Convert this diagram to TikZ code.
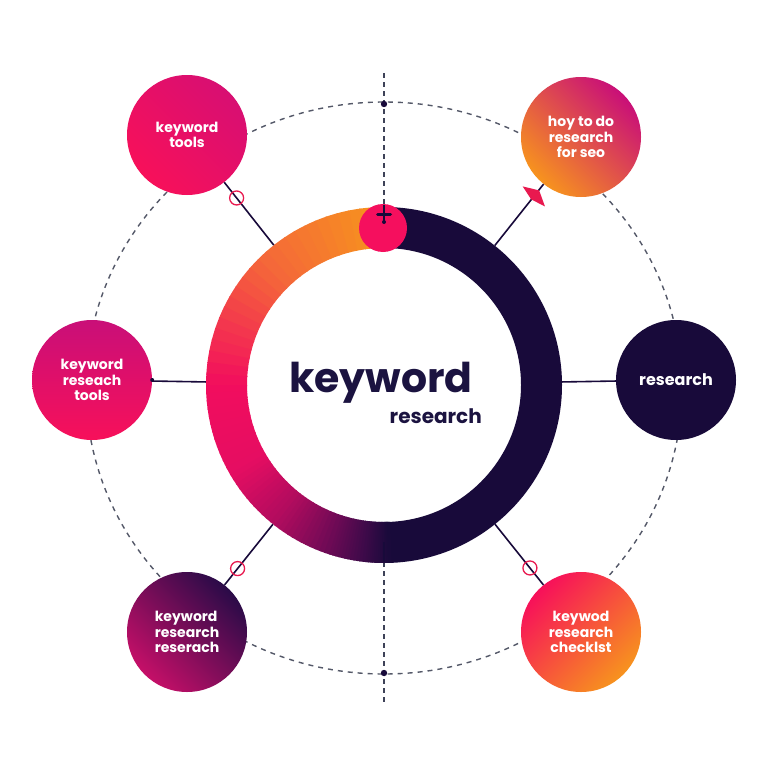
\documentclass[tikz,border=0pt]{standalone}
\usepackage{fontspec}
\setmainfont{Poppins}
\usetikzlibrary{calc}
\definecolor{navy}{HTML}{180A3A}
\definecolor{txtnavy}{HTML}{1B1340}
\definecolor{markred}{HTML}{E8194F}
\definecolor{dotpink}{HTML}{F50F5E}
\definecolor{dashgray}{HTML}{545868}
\definecolor{vgray}{HTML}{3E4258}
\definecolor{cA}{HTML}{F7941D}
\definecolor{cB}{HTML}{F4663A}
\definecolor{cC}{HTML}{F20D5E}
\definecolor{cD}{HTML}{E50D62}
\definecolor{cE}{HTML}{B00C5E}
\definecolor{cF}{HTML}{6A0A55}
\definecolor{cG}{HTML}{3A0A48}
\definecolor{pinkA}{HTML}{F7105A}
\definecolor{magA}{HTML}{C90F78}
\definecolor{magL}{HTML}{D80F72}
\definecolor{orangeA}{HTML}{F7931E}
\definecolor{darkP}{HTML}{2A0B48}
\definecolor{magB}{HTML}{C50F68}
\newcommand\ringwedge[3]{%
  \fill[#3] ($(384,-385)+(#1:178)$) arc[start angle=#1,end angle=#2,radius=178]
    -- ($(384,-385)+(#2:137)$) arc[start angle=#2,end angle=#1,radius=137] -- cycle;}
\tikzset{
  sat/.style={circle, inner sep=0pt, minimum size=120pt, text=white, align=center,
    font=\bfseries\fontsize{14}{15.5}\selectfont},
  conn/.style={draw=navy, line width=1.6pt},
  ringmark/.style={circle, draw=markred, line width=1.3pt, minimum size=14pt, inner sep=0pt},
  dashline/.style={draw=dashgray, line width=1.4pt, dash pattern=on 5pt off 5pt},
  vdash/.style={draw=vgray, line width=1.5pt, dash pattern=on 5pt off 4pt},
}
\begin{document}
\begin{tikzpicture}[x=1pt,y=1pt]
\useasboundingbox (0,0) rectangle (768,-768);
\fill[white] (0,0) rectangle (768,-768);
% dashed orbit
\draw[dashline] (384,-388) ellipse [x radius=298, y radius=286];
% vertical dashed axis
\draw[vdash] (384,-73) -- (384,-207);
\draw[vdash] (384,-562) -- (384,-703);
\fill[navy] (384,-104) circle (3.2);
\fill[navy] (384,-673) circle (3.2);
% ring: right half navy
\ringwedge{-90}{90}{navy}
% ring: left half gradient
\foreach \a/\b/\ca/\cb in {90/135/cA/cB, 135/180/cB/cC, 180/210/cC/cD, 210/232/cD/cE, 232/252/cE/cF, 252/264/cF/cG, 264/272/cG/navy}{
  \foreach \i in {0,...,11}{
    \pgfmathsetmacro\s{\a+(\b-\a)*\i/12}
    \pgfmathsetmacro\e{\a+(\b-\a)*(\i+1)/12+0.5}
    \pgfmathtruncatemacro\p{100*(\i+0.5)/12}
    \colorlet{segc}{\cb!\p!\ca}
    \ringwedge{\s}{\e}{segc}
  }
}
\node[circle, inner sep=0pt, minimum size=356pt] (ring) at (384,-385) {};
% top pink dot and pin
\fill[dotpink] (383,-228) circle (24);
\draw[navy, line width=2.6pt] (384,-205) -- (384,-222);
\draw[navy, line width=3pt, line cap=round] (377.5,-214) -- (390.5,-214);
\fill[navy] (384,-222) circle (2);
% bottom short solid tick
\draw[navy, line width=1.6pt] (384,-542) -- (384,-562);
% centre text
\node[anchor=base, text=txtnavy, font=\bfseries\fontsize{41}{41}\selectfont, inner sep=0pt, text depth=0pt] (kw) at (381,-392) {keyword};
\node[anchor=base east, text=txtnavy, font=\bfseries\fontsize{20}{20}\selectfont, inner sep=0pt] (rs) at (482,-423) {research};
% satellites
\node[sat, top color=magL, bottom color=pinkA, shading angle=-45] (s1) at (187,-135) {keyword\\tools};
\node[sat, top color=magA, bottom color=orangeA, shading angle=-45] (s2) at (581,-137) {hoy to do\\research\\for seo};
\node[sat, top color=magA, bottom color=pinkA, shading angle=0] (s3) at (92,-380) {keyword\\reseach\\tools};
\node[sat, fill=navy, font=\bfseries\fontsize{16}{17}\selectfont] (s4) at (676,-380) {research};
\node[sat, top color=darkP, bottom color=magB, shading angle=-45, align=left] (s5) at (187,-632) {keyword\\research\\reserach};
\node[sat, top color=pinkA, bottom color=orangeA, shading angle=45] (s6) at (581,-632) {keywod\\research\\checklst};
% connectors
\draw[conn] (s1) -- (ring) node[pos=0.25, ringmark] {};
\draw[conn] (s2) -- (ring) coordinate[pos=0.2] (k);
\draw[conn] (s3) -- (ring);
\fill[navy] (s3.east) circle (2);
\draw[conn] (s4) -- (ring);
\draw[conn] (s5) -- (ring) node[pos=0.27, ringmark] {};
\draw[conn] (s6) -- (ring) node[pos=0.28, ringmark] {};
\fill[markred, shift={(k)}, rotate=48] (8,0) -- (0,15) -- (-4,0) -- (0,-15) -- cycle;
\end{tikzpicture}
\end{document}
